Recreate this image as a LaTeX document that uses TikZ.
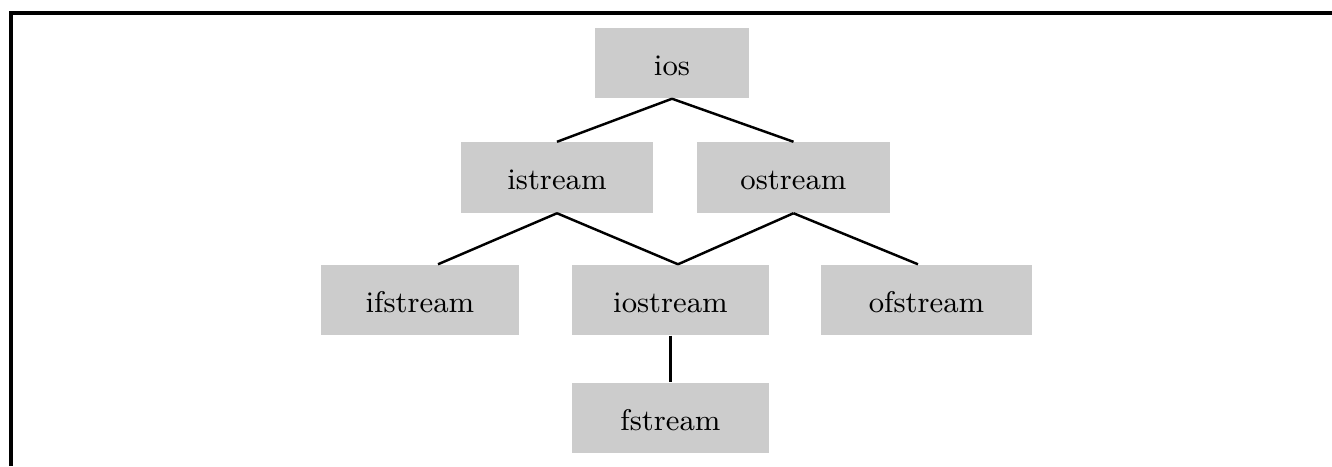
\documentclass[tikz,border=0pt]{standalone}
\usepackage{amsmath}
\usepackage{amssymb}
\usepackage{tikz}

\definecolor{boxgray}{HTML}{CCCCCC}
\tikzset{
  cls/.style={fill=boxgray, inner sep=0pt, minimum height=0.70cm,
    text height=1.6ex, text depth=0pt,
    font=\fontsize{8.5}{10}\selectfont},
  link/.style={line width=0.7pt}
}

\begin{document}
\begin{tikzpicture}[x=0.01cm, y=-0.01cm]
\useasboundingbox (0,0) rectangle (1332,466);

\draw[line width=0.9pt] (1332,13) -- (11,13) -- (11,466);

\node[cls, minimum width=1.54cm] (ios) at (672,63) {ios};
\node[cls, minimum width=1.92cm] (istream) at (557,177.5) {istream};
\node[cls, minimum width=1.92cm] (ostream) at (793.5,177.5) {ostream};
\node[cls, minimum width=1.98cm] (ifstream) at (420,300) {ifstream};
\node[cls, minimum width=1.97cm] (iostream) at (670.5,300) {iostream};
\node[cls, minimum width=2.11cm] (ofstream) at (926.5,300) {ofstream};
\node[cls, minimum width=1.97cm] (fstream) at (670.5,418) {fstream};

\draw[link] (ios.south) to (istream.north);
\draw[link] (ios.south) to (ostream.north);
\draw[link] (istream.south) to ([xshift=0.18cm]ifstream.north);
\draw[link] (istream.south) to ([xshift=0.075cm]iostream.north);
\draw[link] (ostream.south) to ([xshift=0.075cm]iostream.north);
\draw[link] (ostream.south) to ([xshift=-0.085cm]ofstream.north);
\draw[link] (iostream.south) to (fstream.north);
\end{tikzpicture}
\end{document}
